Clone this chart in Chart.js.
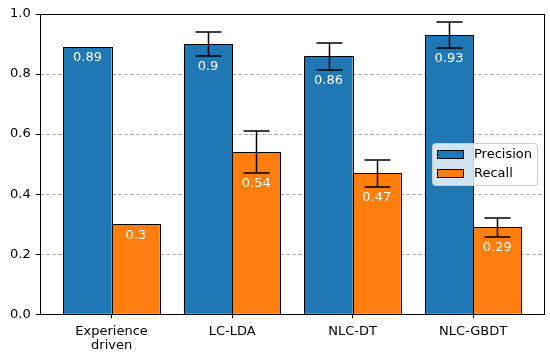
<!DOCTYPE html>
<html>
<head>
<meta charset="utf-8">
<script src="https://cdn.jsdelivr.net/npm/chart.js@4"></script>
<style>
  body { margin: 0; background: #fff; }
  canvas { display: block; }
</style>
</head>
<body>
<canvas id="myChart" width="550" height="359"></canvas>
<script>
const categories = [['Experience', 'driven'], 'LC-LDA', 'NLC-DT', 'NLC-GBDT'];
const precision = [0.89, 0.9, 0.86, 0.93];
const recall = [0.3, 0.54, 0.47, 0.29];
const precisionErr = [0, 0.04, 0.045, 0.043];
const recallErr = [0, 0.07, 0.045, 0.032];
const errors = [precisionErr, recallErr];

const FONT = "'DejaVu Sans', sans-serif";

// crisp black bar edges (chart.js insets its own border)
const barEdges = {
    id: 'barEdges',
    afterDatasetsDraw(chart) {
        const ctx = chart.ctx;
        ctx.save();
        ctx.strokeStyle = '#000';
        ctx.lineWidth = 1;
        chart.data.datasets.forEach((ds, i) => {
            chart.getDatasetMeta(i).data.forEach(bar => {
                const l = Math.round(bar.x - bar.width / 2);
                const r = Math.round(bar.x + bar.width / 2);
                const t = Math.round(bar.y);
                const b = Math.round(bar.base);
                ctx.strokeRect(l + 0.5, t + 0.5, r - l, b - t);
            });
        });
        ctx.restore();
    }
};

// error bars, value labels, frame and legend drawn on top
const overlay = {
    id: 'overlay',
    afterDraw(chart) {
        const ctx = chart.ctx;
        const y = chart.scales.y;
        const area = chart.chartArea;

        chart.data.datasets.forEach((ds, i) => {
            const meta = chart.getDatasetMeta(i);
            meta.data.forEach((bar, j) => {
                const v = ds.data[j].y;
                const e = errors[i][j];
                const cx = Math.round(bar.x) + 0.5;
                ctx.save();
                if (e > 0) {
                    const top = Math.round(y.getPixelForValue(v + e));
                    const bot = Math.round(y.getPixelForValue(v - e));
                    ctx.strokeStyle = '#000';
                    ctx.lineWidth = 1.5;
                    ctx.beginPath();
                    ctx.moveTo(cx, top); ctx.lineTo(cx, bot);
                    ctx.moveTo(cx - 13, top); ctx.lineTo(cx + 13, top);
                    ctx.moveTo(cx - 13, bot); ctx.lineTo(cx + 13, bot);
                    ctx.stroke();
                }
                ctx.fillStyle = '#fff';
                ctx.font = '13px ' + FONT;
                ctx.textAlign = 'center';
                ctx.textBaseline = 'middle';
                ctx.fillText(String(v), bar.x, y.getPixelForValue(v - e) + 11);
                ctx.restore();
            });
        });

        // axes frame
        ctx.save();
        ctx.strokeStyle = '#000';
        ctx.lineWidth = 1;
        ctx.strokeRect(Math.round(area.left) + 0.5, Math.round(area.top) + 0.5,
            Math.round(area.right - area.left), Math.round(area.bottom - area.top));
        ctx.restore();

        // legend, center right
        const w = 105, h = 42;
        const lx = Math.round(area.right - 7 - w);
        const ly = Math.round((area.top + area.bottom) / 2 - h / 2);
        ctx.save();
        ctx.fillStyle = 'rgba(255,255,255,0.8)';
        ctx.strokeStyle = '#cccccc';
        ctx.lineWidth = 1;
        ctx.beginPath();
        ctx.roundRect(lx + 0.5, ly + 0.5, w, h, 3);
        ctx.fill();
        ctx.stroke();
        chart.data.datasets.forEach((ds, i) => {
            const ry = ly + 7 + Math.round(i * 18.5);
            ctx.fillStyle = ds.backgroundColor;
            ctx.fillRect(lx + 5, ry, 27, 9);
            ctx.strokeStyle = '#000';
            ctx.strokeRect(lx + 5.5, ry + 0.5, 26, 8);
            ctx.fillStyle = '#000';
            ctx.font = '13px ' + FONT;
            ctx.textAlign = 'left';
            ctx.textBaseline = 'middle';
            ctx.fillText(ds.label, lx + 42, ry + 5);
        });
        ctx.restore();
    }
};

const ctx = document.getElementById('myChart').getContext('2d');
new Chart(ctx, {
    type: 'bar',
    data: {
        datasets: [{
            label: 'Precision',
            data: precision.map((v, i) => ({ x: i, y: v })),
            backgroundColor: '#1f77b4',
            borderWidth: 0
        }, {
            label: 'Recall',
            data: recall.map((v, i) => ({ x: i, y: v })),
            backgroundColor: '#ff7f0e',
            borderWidth: 0
        }]
    },
    options: {
        responsive: false,
        animation: false,
        devicePixelRatio: 1,
        categoryPercentage: 0.8,
        barPercentage: 1,
        layout: { padding: { top: 14, right: 6, left: 5, bottom: 0 } },
        plugins: { legend: { display: false }, tooltip: { enabled: false } },
        scales: {
            x: {
                type: 'linear',
                min: -0.597,
                max: 3.588,
                offset: false,
                afterBuildTicks: (s) => { s.ticks = categories.map((c, i) => ({ value: i })); },
                grid: { offset: false, drawOnChartArea: false, tickColor: '#000', tickLength: 4 },
                border: { display: false },
                ticks: {
                    color: '#000',
                    padding: 7,
                    maxRotation: 0,
                    autoSkip: false,
                    font: { family: FONT, size: 13, lineHeight: 1.03 },
                    callback: (v) => categories[v]
                }
            },
            y: {
                min: 0,
                max: 1,
                z: 1,
                grid: { color: '#b0b0b0', lineWidth: 1, tickColor: '#000', tickLength: 4 },
                border: { display: false, dash: [4, 2] },
                ticks: {
                    stepSize: 0.2,
                    color: '#000',
                    padding: 5,
                    font: { family: FONT, size: 13 },
                    callback: (v) => v.toFixed(1)
                }
            }
        }
    },
    plugins: [barEdges, overlay]
});
</script>
</body>
</html>
